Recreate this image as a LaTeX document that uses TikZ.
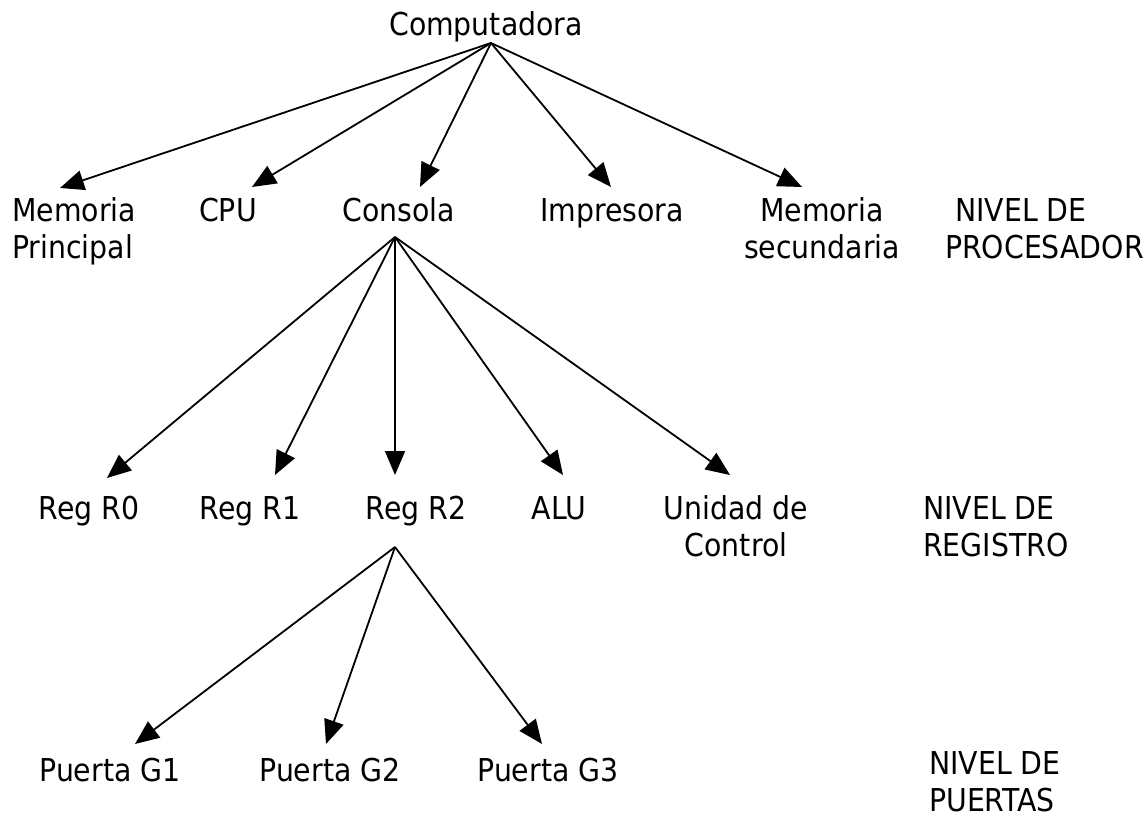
\documentclass[tikz,border=0pt]{standalone}
\usepackage{fontspec}
\setmainfont{DejaVu Sans Condensed}
\usetikzlibrary{arrows.meta}
\begin{document}
\begin{tikzpicture}[x=1pt,y=-1pt,
  lbl/.style={inner sep=0pt,font=\fontsize{31.5}{37}\selectfont},
  arr/.style={line width=1.8pt,-{Triangle[length=24pt,width=20pt]}}]
\useasboundingbox (0,0) rectangle (1148,818);
% level 0
\node[lbl,anchor=base] (comp) at (486,36) {Computadora};
\coordinate (c0) at (491,43);
% level 1 (multi-line nodes anchored at last-line baseline)
\node[lbl,anchor=base west,align=left] (mp) at (12,259) {Memoria\\Principal};
\node[lbl,anchor=base] (cpu) at (228,222) {CPU};
\node[lbl,anchor=base] (cons) at (399,222) {Consola};
\node[lbl,anchor=base] (imp) at (612,222) {Impresora};
\node[lbl,anchor=base,align=center] (ms) at (822,259) {Memoria\\secundaria};
\node[lbl,anchor=base west,align=left] (n1) at (945,259) {\hspace*{10pt}NIVEL DE\\PROCESADOR};
\coordinate (mp-t) at (60,188);
\coordinate (cpu-t) at (252,187);
\coordinate (cons-t) at (420,187);
\coordinate (imp-t) at (611,187);
\coordinate (ms-t) at (802,187);
\coordinate (c1) at (395,237);
% level 2
\node[lbl,anchor=base] (r0) at (89,519) {Reg R0};
\node[lbl,anchor=base] (r1) at (250,519) {Reg R1};
\node[lbl,anchor=base] (r2) at (416,519) {Reg R2};
\node[lbl,anchor=base] (alu) at (559,519) {ALU};
\node[lbl,anchor=base,align=center] (uc) at (736,556) {Unidad de\\Control};
\node[lbl,anchor=base west,align=left] (n2) at (923,556) {NIVEL DE\\REGISTRO};
\coordinate (r0-t) at (107,478);
\coordinate (r1-t) at (275,475);
\coordinate (r2-t) at (395,475);
\coordinate (alu-t) at (563,475);
\coordinate (uc-t) at (730,475);
\coordinate (c2) at (395,547);
% level 3
\node[lbl,anchor=base] (g1) at (110,781) {Puerta G1};
\node[lbl,anchor=base] (g2) at (330,781) {Puerta G2};
\node[lbl,anchor=base] (g3) at (548,781) {Puerta G3};
\node[lbl,anchor=base west,align=left] (n3) at (929,811) {NIVEL DE\\PUERTAS};
\coordinate (g1-t) at (135,744);
\coordinate (g2-t) at (326,744);
\coordinate (g3-t) at (542,744);
% connectors
\foreach \t in {mp-t,cpu-t,cons-t,imp-t,ms-t} \draw[arr] (c0) -- (\t);
\foreach \t in {r0-t,r1-t,r2-t,alu-t,uc-t} \draw[arr] (c1) -- (\t);
\foreach \t in {g1-t,g2-t,g3-t} \draw[arr] (c2) -- (\t);
\end{tikzpicture}
\end{document}
